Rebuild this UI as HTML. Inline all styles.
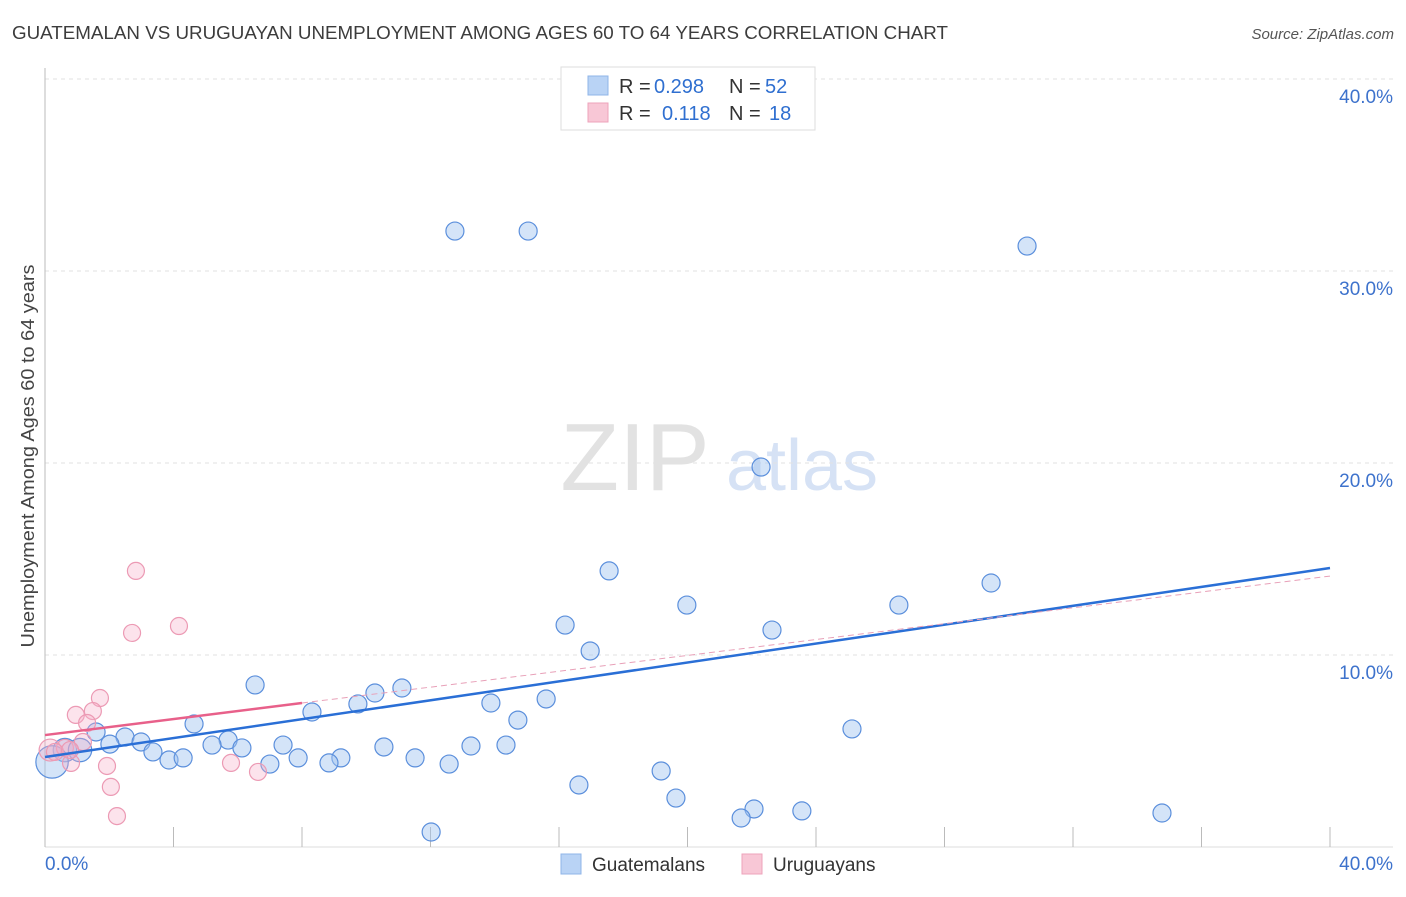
<!DOCTYPE html>
<html><head><meta charset="utf-8">
<style>
body{margin:0;background:#fff;font-family:"Liberation Sans",sans-serif;}
svg text{font-family:"Liberation Sans",sans-serif;}
</style></head>
<body>
<svg id="chart" width="1406" height="892" viewBox="0 0 1406 892" xmlns="http://www.w3.org/2000/svg">
<text x="12" y="39" font-size="18" fill="#3c3c3c" textLength="936" lengthAdjust="spacingAndGlyphs">GUATEMALAN VS URUGUAYAN UNEMPLOYMENT AMONG AGES 60 TO 64 YEARS CORRELATION CHART</text>
<text x="1394" y="39" font-size="15" fill="#555" text-anchor="end" font-style="italic">Source: ZipAtlas.com</text>
<text transform="translate(34,456) rotate(-90)" font-size="18" fill="#444" text-anchor="middle" textLength="383" lengthAdjust="spacingAndGlyphs">Unemployment Among Ages 60 to 64 years</text>
<g>
<text x="635" y="490" font-size="96" fill="#e2e2e2" text-anchor="middle" font-family="Liberation Serif, serif">ZIP</text>
<text x="802" y="490" font-size="72" fill="#d6e2f5" text-anchor="middle">atlas</text>
</g>
<g id="grid"></g>
<g id="axes"></g>
<g id="pts"></g>
<g id="trends"></g>
<g>
<rect x="561" y="67" width="254" height="63" fill="#fff" stroke="#ddd"/>
<rect x="588" y="76" width="20" height="19" fill="#b9d3f5" stroke="#8fb4e8"/>
<rect x="588" y="103" width="20" height="19" fill="#f8c7d6" stroke="#eea3bb"/>
<text x="619" y="93" font-size="20" fill="#333">R =</text>
<text x="654" y="93" font-size="20" fill="#2f6fd0">0.298</text>
<text x="729" y="93" font-size="20" fill="#333">N =</text>
<text x="765" y="93" font-size="20" fill="#2f6fd0">52</text>
<text x="619" y="120" font-size="20" fill="#333">R =</text>
<text x="662" y="120" font-size="20" fill="#2f6fd0">0.118</text>
<text x="729" y="120" font-size="20" fill="#333">N =</text>
<text x="769" y="120" font-size="20" fill="#2f6fd0">18</text>
</g>
<g>
<rect x="561" y="854" width="20" height="20" fill="#b9d3f5" stroke="#8fb4e8"/>
<text x="592" y="871" font-size="19" fill="#333">Guatemalans</text>
<rect x="742" y="854" width="20" height="20" fill="#f8c7d6" stroke="#eea3bb"/>
<text x="773" y="871" font-size="19" fill="#333">Uruguayans</text>
</g>
</svg>
<script>
const yTicks=[10,20,30,40];
const yTickLabels=["10.0%","20.0%","30.0%","40.0%"];
const xTicks=[0,4,8,12,16,20,24,28,32,36,40];
const xEndLabels=["0.0%","40.0%"];
const blueX=[12.76,15.04,30.57,22.29,17.56,29.45,19.98,26.58,16.19,22.63,16.97,6.54,11.11,10.27,15.60,9.74,13.88,8.31,14.72,4.64,25.12,1.59,2.49,2.99,5.70,5.20,6.13,2.02,3.36,7.41,10.55,13.26,14.35,3.86,4.30,7.88,9.21,11.52,7.00,8.84,12.58,19.18,16.62,19.64,22.07,23.56,21.67,34.77,12.02,0.62,1.09,0.22];
const blueY=[32.08,32.08,31.30,19.79,14.38,13.75,12.60,12.60,11.56,11.30,10.21,8.44,8.28,8.02,7.71,7.45,7.50,7.03,6.61,6.41,6.15,5.99,5.73,5.47,5.57,5.31,5.16,5.36,4.95,5.31,5.21,5.26,5.31,4.53,4.64,4.64,4.64,4.64,4.32,4.38,4.32,3.96,3.23,2.55,1.98,1.88,1.51,1.77,0.78,5.05,5.05,4.43];
const blueSize=[1,1,1,1,1,1,1,1,1,1,1,1,1,1,1,1,1,1,1,1,1,1,1,1,1,1,1,1,1,1,1,1,1,1,1,1,1,1,1,1,1,1,1,1,1,1,1,1,1,1.3,1.3,1.8];
const pinkX=[2.83,4.17,2.71,1.71,0.96,1.49,1.31,1.18,1.93,0.81,2.05,5.79,6.63,2.24,0.16,0.62,0.31,0.78];
const pinkY=[14.38,11.51,11.15,7.76,6.88,7.08,6.46,5.47,4.22,4.38,3.13,4.38,3.91,1.61,5.05,5.16,4.95,5.05];
const blueTrendX=[0,40];
const blueTrendY=[4.69,14.53];
const pinkTrendX=[0,8,40];
const pinkTrendY=[5.83,7.5,14.11];

const X0=45,X1=1330,Y0=847,Y1=79;
const sx=v=>X0+v*(X1-X0)/40;
const sy=v=>Y0-v*(Y0-Y1)/40;
const NS="http://www.w3.org/2000/svg";
function mk(tag,parent,attrs){const e=document.createElementNS(NS,tag);for(const k in attrs)e.setAttribute(k,attrs[k]);document.getElementById(parent).appendChild(e);return e;}

yTicks.forEach((t,i)=>{
  const g=mk('line','grid',{x1:X0,x2:1393,y1:sy(t),y2:sy(t),stroke:'#e2e2e2','stroke-dasharray':'4,4'});
  
  
  const l=mk('text','axes',{x:1393,y:sy(t)+24,'font-size':19,fill:'#3d72cc','text-anchor':'end'});
  l.textContent=yTickLabels[i];
  
  
});
const al=mk('line','axes',{x1:X0,x2:X0,y1:68,y2:Y0,stroke:'#bbb'});


const bl=mk('line','axes',{x1:X0,x2:1393,y1:Y0,y2:Y0,stroke:'#ddd'});


xTicks.forEach(t=>{
  const k=mk('line','axes',{x1:sx(t),x2:sx(t),y1:827,y2:Y0,stroke:'#bbb'});
  
  
});
const lx0=mk('text','axes',{x:45,y:870,'font-size':19,fill:'#3d72cc'});lx0.textContent=xEndLabels[0];


const lx1=mk('text','axes',{x:1393,y:870,'font-size':19,fill:'#3d72cc','text-anchor':'end'});lx1.textContent=xEndLabels[1];



blueX.forEach((v,i)=>{
  const c=mk('circle','pts',{cx:sx(v),cy:sy(blueY[i]),r:9*blueSize[i],fill:'rgba(160,195,240,0.45)',stroke:'#5b8fdc','stroke-width':1.2});
  
  
});
pinkX.forEach((v,i)=>{
  const c=mk('circle','pts',{cx:sx(v),cy:sy(pinkY[i]),r:i==14?11:8.5,fill:'rgba(245,175,200,0.35)',stroke:'#ec9ab4','stroke-width':1.2});
  
  
});
const bt=mk('line','trends',{x1:sx(blueTrendX[0]),y1:sy(blueTrendY[0]),x2:sx(blueTrendX[1]),y2:sy(blueTrendY[1]),stroke:'#2a6fd6','stroke-width':2.5});


const pt=mk('line','trends',{x1:sx(pinkTrendX[0]),y1:sy(pinkTrendY[0]),x2:sx(pinkTrendX[1]),y2:sy(pinkTrendY[1]),stroke:'#e8608a','stroke-width':2.5});


const pd=mk('line','trends',{x1:sx(pinkTrendX[1]),y1:sy(pinkTrendY[1]),x2:sx(pinkTrendX[2]),y2:sy(pinkTrendY[2]),stroke:'#e8a0b8','stroke-width':1,'stroke-dasharray':'6,4'});


</script>
</body></html>
